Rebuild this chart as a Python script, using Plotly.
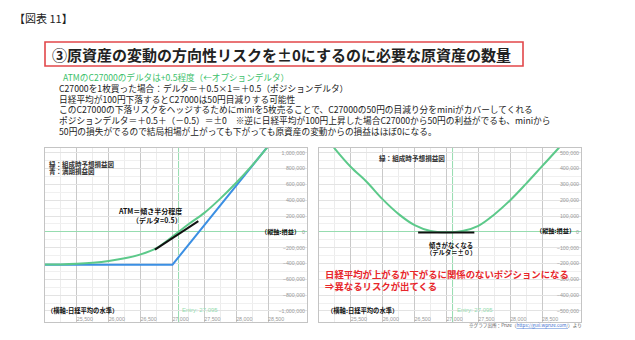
import plotly.graph_objects as go

W, H = 635, 340

# ---- data -------------------------------------------------------------
ENTRY = 27095

# left panel: long C27000
CALL_PRICE = [25000, 25250, 25500, 25750, 26000, 26250, 26500, 26750,
              27000, 27250, 27500, 27750, 28000, 28250, 28500, 28750]
CALL_NOW_PNL = [-414000, -412000, -404000, -390000, -368000, -335000, -285000, -205000,
                -60000, 95000, 240000, 420000, 620000, 840000, 1080000, 1330000]
CALL_EXPIRY_PRICE = [25000, 27000, 29000]
CALL_EXPIRY_PNL = [-415000, -415000, 1585000]
ATM_TANGENT_PRICE = [26725, 27405]
ATM_TANGENT_PNL = [-224000, 135000]

# right panel: long C27000 + short mini x5
HEDGE_PRICE = [25000, 25250, 25500, 25750, 26000, 26250, 26500, 26750, 27000,
               27250, 27500, 27750, 28000, 28250, 28500, 28750, 29000]
HEDGE_NOW_PNL = [655000, 525000, 410000, 315000, 205000, 112000, 42000, 5000, -3000,
                 5000, 38000, 110000, 200000, 305000, 415000, 525000, 640000]
FLAT_PRICE = [26555, 27437]
FLAT_PNL = [-4000, -4000]

X_TICKS = [25500, 26000, 26500, 27000, 27500, 28000, 28500, 29000]
X_RANGE = [25000, 29110]
LEFT_Y_RANGE = [-1140000, 1060000]
RIGHT_Y_RANGE = [-570000, 530000]

GREEN = "#5cc98a"
BLUE = "#3b8fe3"
LIGHT_GREEN = "#96dcb0"
JP = "Noto Sans CJK JP"
NUM = "Liberation Sans"


def px(x):
    return x / W


def py(y):
    return 1 - y / H


fig = go.Figure()

fig.add_trace(go.Scatter(x=CALL_EXPIRY_PRICE, y=CALL_EXPIRY_PNL, mode="lines",
                         line=dict(color=BLUE, width=2), xaxis="x", yaxis="y"))
fig.add_trace(go.Scatter(x=CALL_PRICE, y=CALL_NOW_PNL, mode="lines", line_shape="spline",
                         line=dict(color=GREEN, width=2), xaxis="x", yaxis="y"))
fig.add_trace(go.Scatter(x=ATM_TANGENT_PRICE, y=ATM_TANGENT_PNL, mode="lines",
                         line=dict(color="#111111", width=2), xaxis="x", yaxis="y"))

fig.add_trace(go.Scatter(x=HEDGE_PRICE, y=HEDGE_NOW_PNL, mode="lines", line_shape="spline",
                         line=dict(color=GREEN, width=2), xaxis="x2", yaxis="y2"))
fig.add_trace(go.Scatter(x=FLAT_PRICE, y=FLAT_PNL, mode="lines",
                         line=dict(color="#111111", width=2), xaxis="x2", yaxis="y2"))


def x_axis(domain, anchor):
    return dict(domain=domain, anchor=anchor, range=X_RANGE, tickvals=X_TICKS,
                ticktext=[f"{v:,}" for v in X_TICKS], ticklabelposition="inside",
                ticklabelshift=8, ticklabelstandoff=-2, ticks="",
                tickfont=dict(family=NUM, size=5.3, color="#9a9a9a"),
                showgrid=True, gridcolor="#c9c9c9", gridwidth=1,
                minor=dict(dtick=250, tick0=25000, showgrid=True, gridcolor="#ececec"),
                showline=True, mirror=True, linecolor="#c4c4c4", linewidth=1,
                zeroline=False, fixedrange=True)


def y_axis(domain, anchor, rng, dtick):
    return dict(domain=domain, anchor=anchor, range=rng, side="right", dtick=dtick,
                tickformat=",d", ticklabelposition="inside", ticks="",
                tickfont=dict(family=NUM, size=5.3, color="#9a9a9a"),
                showgrid=True, gridcolor="#e3e3e3", gridwidth=1,
                minor=dict(dtick=dtick / 2, showgrid=True, gridcolor="#f0f0f0"),
                zeroline=True, zerolinecolor=LIGHT_GREEN, zerolinewidth=1,
                showline=True, mirror=True, linecolor="#c4c4c4", linewidth=1,
                fixedrange=True)


ydom = [py(322), py(148)]
fig.update_layout(
    xaxis=x_axis([px(45), px(307)], "y"),
    yaxis=y_axis(ydom, "x", LEFT_Y_RANGE, 200000),
    xaxis2=x_axis([px(319), px(581)], "y2"),
    yaxis2=y_axis(ydom, "x2", RIGHT_Y_RANGE, 100000),
)

# entry lines
for xr, yr in (("x", "y domain"), ("x2", "y2 domain")):
    fig.add_shape(type="line", xref=xr, yref=yr, x0=ENTRY, x1=ENTRY, y0=0, y1=1,
                  line=dict(color=LIGHT_GREEN, width=1), layer="below")

# title frame
fig.add_shape(type="rect", xref="paper", yref="paper", x0=px(45), x1=px(523),
              y0=py(66), y1=py(42), line=dict(color="#e2474a", width=1.6))


def note(x, y, text, size, color="#222222", bold=False, anchor="left", family=JP):
    if bold:
        text = f"<b>{text}</b>"
    fig.add_annotation(x=px(x), y=py(y), xref="paper", yref="paper", text=text,
                       showarrow=False, xanchor=anchor, yanchor="middle",
                       font=dict(family=family, size=size, color=color))


note(12, 18, "【図表 11】", 11)
note(50, 54, "③原資産の変動の方向性リスクを±0にするのに必要な原資産の数量", 15, "#222222", True)

lines = [
    "C27000を1枚買った場合：デルタ＝＋0.5×1＝＋0.5（ポジションデルタ）",
    "日経平均が100円下落するとC27000は50円目減りする可能性",
    "このC27000の下落リスクをヘッジするためにminiを5枚売ることで、C27000の50円の目減り分をminiがカバーしてくれる",
    "ポジションデルタ＝＋0.5＋（－0.5）＝±0　※逆に日経平均が100円上昇した場合C27000から50円の利益がでるも、miniから",
    "50円の損失がでるので結局相場が上がっても下がっても原資産の変動からの損益はほぼ0になる。",
]
note(61, 77.5, "ATMのC27000のデルタは+0.5程度（←オプションデルタ）", 8.6, "#3cbf6a")
for i, t in enumerate(lines):
    note(57, 88.3 + i * 10.7, t, 8.7, "#222222")

# left panel notes
note(47, 163.5, "緑：組成時予想損益図", 6.5, "#333333", True)
note(47, 171, "青：満期損益図", 6.5, "#333333", True)
note(150, 211, "ATM＝傾き半分程度", 7, "#111111", True, "center")
note(157, 220, "（デルタ=0.5）", 7, "#111111", True, "center")
note(302, 231.5, "（縦軸:損益）", 6.2, "#111111", True, "right")
note(45, 310.5, "（横軸:日経平均の水準）", 6.3, "#111111", True)
note(180, 310, "Entry: 27,095", 6, LIGHT_GREEN, False, "left", NUM)

# right panel notes
note(377, 158, "緑：組成時予想損益図", 6.6, "#333333", True)
note(451, 245, "傾きがなくなる", 6.3, "#111111", True, "center")
note(451, 252.5, "（デルタ＝±０）", 6.3, "#111111", True, "center")
note(577, 230.5, "（縦軸:損益）", 6.2, "#111111", True, "right")
note(323, 273.5, "日経平均が上がるか下がるに関係のないポジションになる", 9.4, "#e8262b", True)
note(323, 285.5, "⇒異なるリスクが出てくる", 9.4, "#e8262b", True)
note(325, 310.5, "（横軸:日経平均の水準）", 6.3, "#111111", True)
note(455, 310, "Entry: 27,095", 6, LIGHT_GREEN, False, "left", NUM)
note(467, 325, "※グラフ出所：Prize（<span style=\"color:#3a6fd0;text-decoration:underline\">https://guil.wprize.com/</span>）より",
     4.6, "#555555")

fig.update_layout(width=W, height=H, margin=dict(l=0, r=0, t=0, b=0),
                  paper_bgcolor="white", plot_bgcolor="white", showlegend=False)

fig.write_html("out.html")
